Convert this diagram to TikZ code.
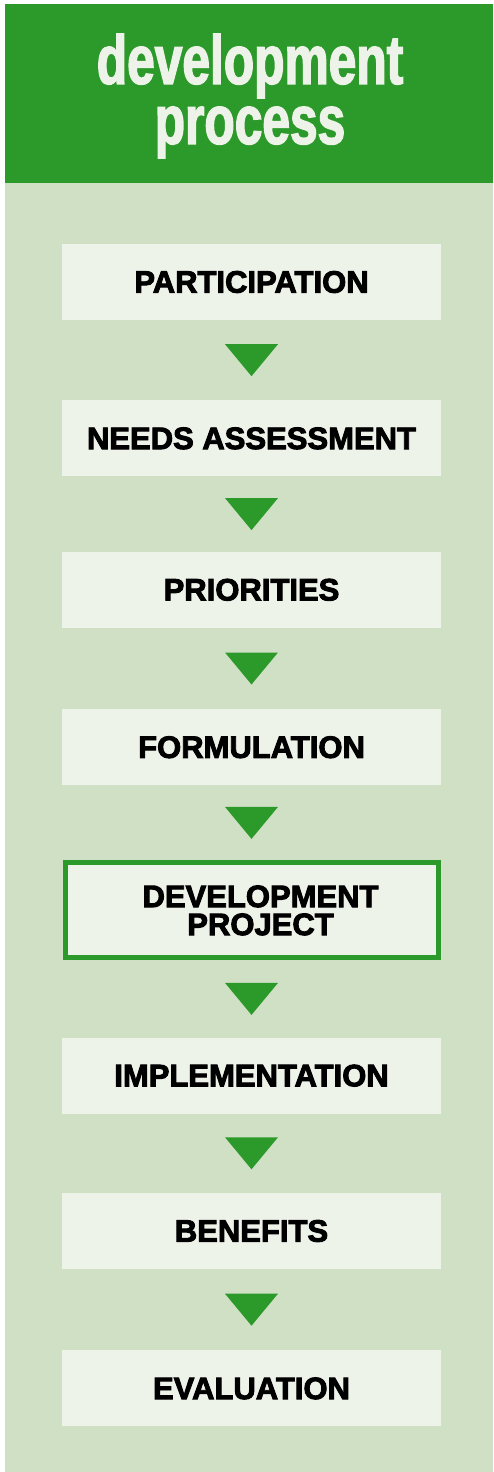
\documentclass[tikz,border=0pt]{standalone}
\usepackage{fontspec}
\usepackage{tikz}
\usetikzlibrary{positioning,calc}
\newfontfamily\titlefont[FakeStretch=0.72,BoldFeatures={FakeBold=2}]{Liberation Sans}
\newfontfamily\boxfont[BoldFeatures={FakeBold=3}]{Liberation Sans}
\definecolor{headgreen}{HTML}{2C9A2A}
\definecolor{panelgreen}{HTML}{D0E0C5}
\definecolor{boxwhite}{HTML}{EEF3EA}

\begin{document}
\begin{tikzpicture}[x=1pt,y=1pt,
                    stepbox/.style={rectangle, minimum width=379pt, minimum height=76pt, inner sep=0pt, text centered, fill=boxwhite, font=\boxfont\bfseries\fontsize{31}{28}\selectfont},
                    keybox/.style={stepbox, draw=headgreen, line width=5pt, minimum width=373pt, minimum height=95pt},
                    tri/.style={fill=headgreen}]
        % background and header
        \useasboundingbox[fill=white] (0,0) rectangle (493,-1472);
        \fill[panelgreen] (5,-4) rectangle (493,-1472);
        \fill[headgreen] (5,-4) rectangle (493,-183);
        \node (Title) [align=center, text=boxwhite, font=\titlefont\bfseries\fontsize{69}{60}\selectfont] at (250,-96) {development\\process};

        % steps
        \node (Part) [stepbox] at (251.5,-282) {PARTICIPATION};
        \node (Needs) [stepbox, below=80pt of Part] {NEEDS ASSESSMENT};
        \node (Prio) [stepbox, below=75pt of Needs] {PRIORITIES};
        \node (Form) [stepbox, below=81pt of Prio] {FORMULATION};
        \node (DevProj) [keybox, below=75pt of Form, align=center] {\hspace*{18pt}DEVELOPMENT\\\hspace*{18pt}PROJECT};
        \node (Impl) [stepbox, below=77pt of DevProj] {IMPLEMENTATION};
        \node (Bene) [stepbox, below=79pt of Impl] {BENEFITS};
        \node (Eval) [stepbox, below=81pt of Bene] {EVALUATION};

        % triangles between steps
        \foreach \a/\b in {Part/Needs, Needs/Prio, Prio/Form, Form/DevProj, DevProj/Impl, Impl/Bene, Bene/Eval}
            \fill[tri] ($(\a.south)!0.5!(\b.north)$) +(-26.5,16) -- +(26.5,16) -- +(0,-16) -- cycle;
\end{tikzpicture}
\end{document}
